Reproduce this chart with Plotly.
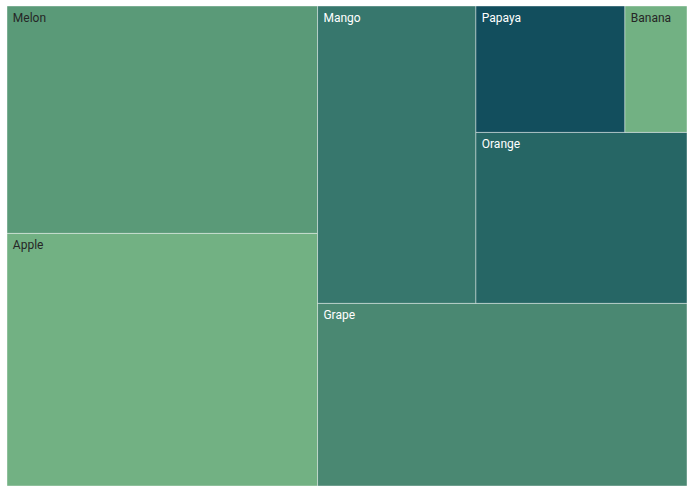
import plotly.graph_objects as go

labels = ["Apple", "Melon", "Grape", "Mango", "Orange", "Papaya", "Banana"]
values = [50, 45, 43, 30, 23, 12, 5]
colors = ["#72b183", "#5a9a78", "#4a8872", "#37776d", "#266665", "#124e5d", "#72b183"]
text_colors = ["#262626", "#262626", "white", "white", "white", "white", "#262626"]
parents = [""] * len(labels)

fig = go.Figure(go.Treemap(
    labels=labels,
    parents=parents,
    values=values,
    marker=dict(colors=colors, line=dict(width=1, color="rgba(255,255,255,0.4)"),
                pad=dict(t=0, l=0, r=0, b=0)),
    tiling=dict(flip="y", pad=0),
    textposition="top left",
    texttemplate="<span style='font-size:14px'>\u2009</span>%{label}",
    textfont=dict(family="Roboto", size=12, color=text_colors),
    pathbar=dict(visible=False),
    sort=True,
    hoverinfo="label+value",
))

fig.update_layout(
    width=698,
    height=496,
    margin=dict(l=7, r=11, t=6, b=10),
    paper_bgcolor="white",
    font=dict(family="Roboto", size=12),
)

fig.write_html("out.html")
